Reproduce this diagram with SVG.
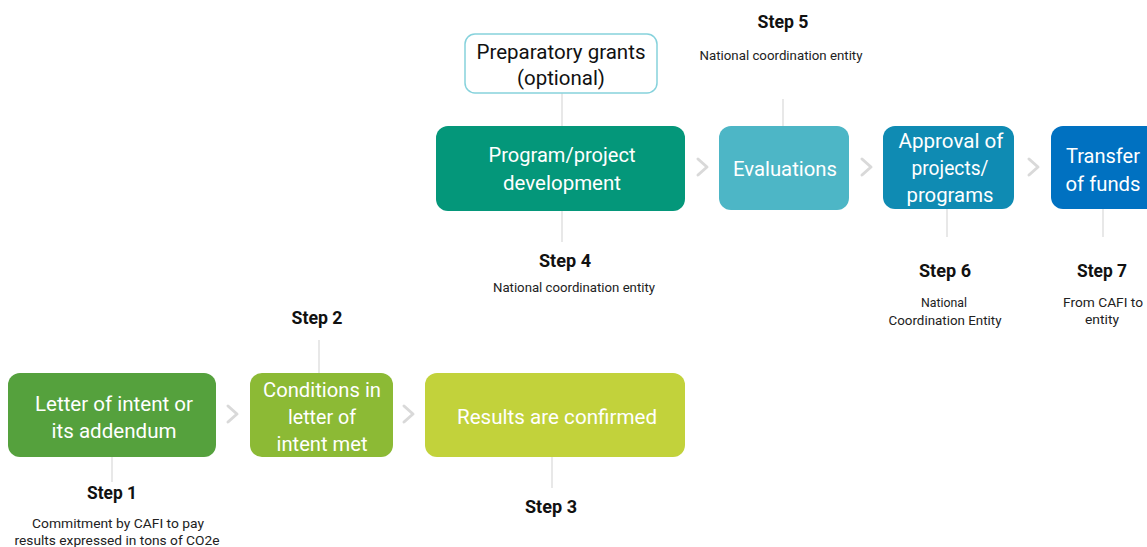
<svg xmlns="http://www.w3.org/2000/svg" width="1147" height="547" viewBox="0 0 1147 547">
<style>
.box{stroke:none}
.lbl{font-family:Roboto,"Liberation Sans",Arial,sans-serif;font-size:21px;fill:#ffffff;text-anchor:middle}
.dark{fill:#111111}
.step{font-family:Roboto,"Liberation Sans",Arial,sans-serif;font-size:18px;font-weight:bold;fill:#111111;text-anchor:middle}
.note{font-family:Roboto,"Liberation Sans",Arial,sans-serif;font-size:13.5px;fill:#222222;text-anchor:middle}
.link{stroke:#d9d9d9;stroke-width:1.2;fill:none}
.chev{stroke:#d9d9d9;stroke-width:3;fill:none;stroke-linecap:round;stroke-linejoin:round}
</style>
<rect width="1147" height="547" fill="#ffffff"/>
<g id="connectors">
<line class="link" x1="112" y1="457" x2="112" y2="482"/>
<line class="link" x1="319" y1="340" x2="319" y2="373"/>
<line class="link" x1="552" y1="457" x2="552" y2="488"/>
<line class="link" x1="562" y1="93" x2="562" y2="126"/>
<line class="link" x1="562" y1="211" x2="562" y2="242"/>
<line class="link" x1="783" y1="99" x2="783" y2="126"/>
<line class="link" x1="947" y1="209" x2="947" y2="237"/>
<line class="link" x1="1103" y1="209" x2="1103" y2="237"/>
<polyline class="chev" points="228,406 237,414 228,422"/>
<polyline class="chev" points="404,406 413,414 404,422"/>
<polyline class="chev" points="698,159 707,167 698,175"/>
<polyline class="chev" points="862,159 871,167 862,175"/>
<polyline class="chev" points="1029,159 1038,167 1029,175"/>
</g>
<g id="step1">
<rect class="box" x="8" y="373" width="208" height="84" rx="12" fill="#55a13d"/>
<text class="lbl" x="114" y="411" textLength="158" lengthAdjust="spacingAndGlyphs">Letter of intent or</text>
<text class="lbl" x="114" y="438" textLength="125" lengthAdjust="spacingAndGlyphs">its addendum</text>
<text class="step" x="112" y="499" textLength="50" lengthAdjust="spacingAndGlyphs">Step 1</text>
<text class="note" x="118" y="528" textLength="172" lengthAdjust="spacingAndGlyphs">Commitment by CAFI to pay</text>
<text class="note" x="117" y="545" textLength="205" lengthAdjust="spacingAndGlyphs">results expressed in tons of CO2e</text>
</g>
<g id="step2">
<rect class="box" x="250" y="373" width="143" height="84" rx="12" fill="#8cba35"/>
<text class="lbl" x="322" y="397" textLength="118" lengthAdjust="spacingAndGlyphs">Conditions in</text>
<text class="lbl" x="322" y="424" textLength="68" lengthAdjust="spacingAndGlyphs">letter of</text>
<text class="lbl" x="322" y="451" textLength="91" lengthAdjust="spacingAndGlyphs">intent met</text>
<text class="step" x="317" y="324" textLength="51" lengthAdjust="spacingAndGlyphs">Step 2</text>
</g>
<g id="step3">
<rect class="box" x="425" y="373" width="260" height="84" rx="12" fill="#c2d23b"/>
<text class="lbl" x="557" y="424" textLength="200" lengthAdjust="spacingAndGlyphs">Results are confirmed</text>
<text class="step" x="551" y="513" textLength="52" lengthAdjust="spacingAndGlyphs">Step 3</text>
</g>
<g id="grants">
<rect x="465" y="34" width="192" height="59" rx="10" fill="#ffffff" stroke="#86d2dc" stroke-width="1.5"/>
<text class="lbl dark" x="561" y="59" textLength="169" lengthAdjust="spacingAndGlyphs">Preparatory grants</text>
<text class="lbl dark" x="561" y="85" textLength="88" lengthAdjust="spacingAndGlyphs">(optional)</text>
</g>
<g id="step4">
<rect class="box" x="436" y="126" width="249" height="85" rx="12" fill="#04977a"/>
<text class="lbl" x="562" y="162" textLength="147" lengthAdjust="spacingAndGlyphs">Program/project</text>
<text class="lbl" x="562" y="190" textLength="118" lengthAdjust="spacingAndGlyphs">development</text>
<text class="step" x="565" y="267" textLength="52" lengthAdjust="spacingAndGlyphs">Step 4</text>
<text class="note" x="574" y="292" textLength="162" lengthAdjust="spacingAndGlyphs">National coordination entity</text>
</g>
<g id="step5">
<rect class="box" x="719" y="126" width="130" height="84" rx="12" fill="#4db6c6"/>
<text class="lbl" x="785" y="176" textLength="104" lengthAdjust="spacingAndGlyphs">Evaluations</text>
<text class="step" x="783" y="28" textLength="51" lengthAdjust="spacingAndGlyphs">Step 5</text>
<text class="note" x="781" y="60" textLength="163" lengthAdjust="spacingAndGlyphs">National coordination entity</text>
</g>
<g id="step6">
<rect class="box" x="883" y="126" width="131" height="83" rx="12" fill="#0f8bb3"/>
<text class="lbl" x="951" y="148" textLength="105" lengthAdjust="spacingAndGlyphs">Approval of</text>
<text class="lbl" x="950" y="175" textLength="77" lengthAdjust="spacingAndGlyphs">projects/</text>
<text class="lbl" x="950" y="202" textLength="87" lengthAdjust="spacingAndGlyphs">programs</text>
<text class="step" x="945" y="277" textLength="52" lengthAdjust="spacingAndGlyphs">Step 6</text>
<text class="note" x="944" y="307" textLength="46" lengthAdjust="spacingAndGlyphs">National</text>
<text class="note" x="945" y="325" textLength="113" lengthAdjust="spacingAndGlyphs">Coordination Entity</text>
</g>
<g id="step7">
<rect class="box" x="1051" y="126" width="110" height="83" rx="12" fill="#0071c1"/>
<text class="lbl" x="1103" y="163" textLength="74" lengthAdjust="spacingAndGlyphs">Transfer</text>
<text class="lbl" x="1103" y="191" textLength="75" lengthAdjust="spacingAndGlyphs">of funds</text>
<text class="step" x="1102" y="277" textLength="50" lengthAdjust="spacingAndGlyphs">Step 7</text>
<text class="note" x="1103" y="307" textLength="80" lengthAdjust="spacingAndGlyphs">From CAFI to</text>
<text class="note" x="1102" y="324" textLength="34" lengthAdjust="spacingAndGlyphs">entity</text>
</g>
</svg>
